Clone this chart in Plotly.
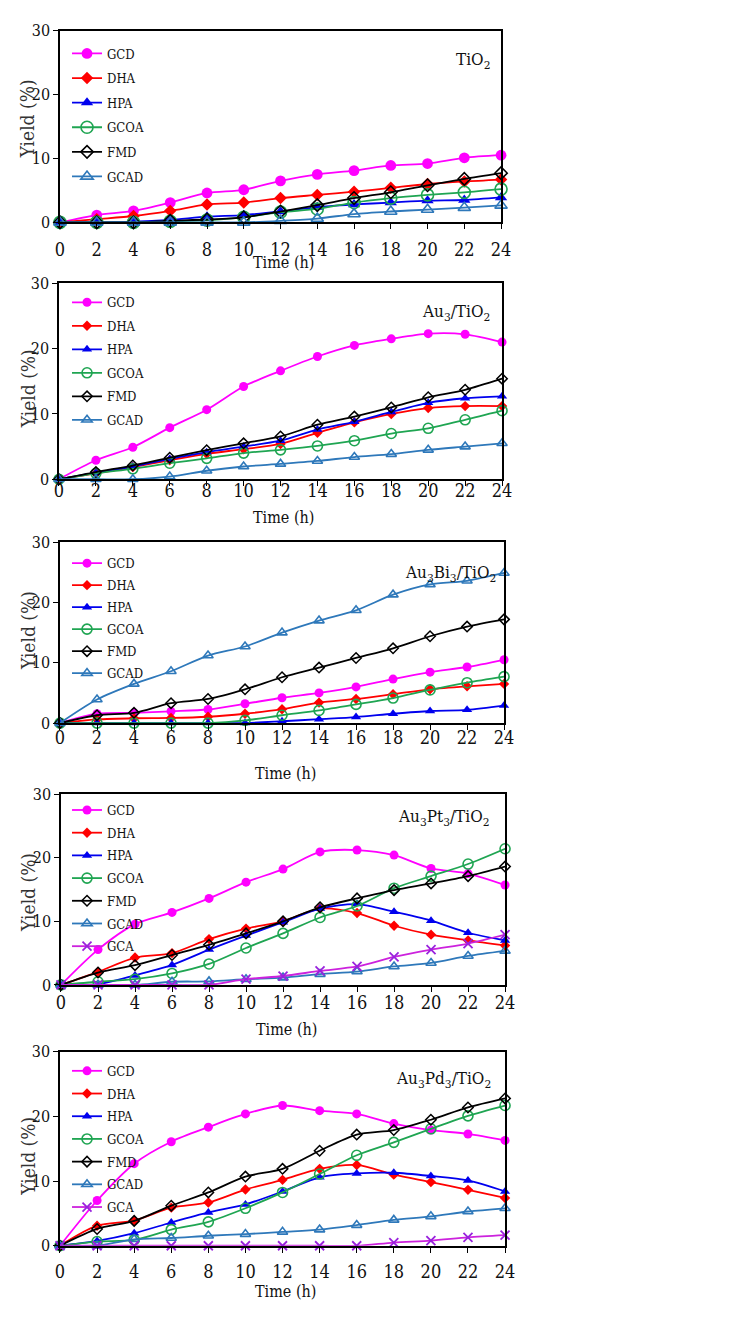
import plotly.graph_objects as go

# ---------------- data ----------------
time_h = [0, 2, 4, 6, 8, 10, 12, 14, 16, 18, 20, 22, 24]
x_ticks = [0, 2, 4, 6, 8, 10, 12, 14, 16, 18, 20, 22, 24]
y_ticks = [0, 10, 20, 30]

# TiO2
tio2_GCD = [0, 1.15, 1.8, 3.1, 4.6, 5.1, 6.5, 7.5, 8.1, 8.9, 9.2, 10.1, 10.5]
tio2_DHA = [0, 0.5, 1.0, 1.8, 2.8, 3.1, 3.8, 4.3, 4.8, 5.4, 6.0, 6.4, 6.7]
tio2_HPA = [0, 0, 0.1, 0.4, 0.9, 1.15, 1.7, 2.4, 2.8, 3.1, 3.4, 3.5, 3.9]
tio2_GCOA = [0, 0, 0, 0.15, 0.35, 0.8, 1.6, 2.1, 3.1, 3.8, 4.3, 4.7, 5.2]
tio2_FMD = [0, 0, 0, 0.25, 0.45, 0.8, 1.7, 2.7, 3.8, 4.7, 5.8, 6.8, 7.7]
tio2_GCAD = [0, 0, 0, 0, 0, 0, 0.25, 0.6, 1.3, 1.7, 2.0, 2.3, 2.65]

# Au3/TiO2
au_GCD = [0, 2.9, 4.9, 7.9, 10.65, 14.2, 16.6, 18.8, 20.5, 21.5, 22.3, 22.2, 21.0]
au_DHA = [0, 0.9, 1.85, 2.9, 3.9, 4.6, 5.4, 7.1, 8.7, 10.0, 10.9, 11.2, 11.2]
au_HPA = [0, 1.0, 1.95, 3.1, 4.15, 5.0, 5.9, 7.6, 8.8, 10.3, 11.7, 12.4, 12.7]
au_GCOA = [0, 0.9, 1.6, 2.45, 3.2, 4.0, 4.5, 5.1, 5.9, 7.0, 7.8, 9.1, 10.5]
au_FMD = [0, 1.1, 2.1, 3.3, 4.45, 5.5, 6.55, 8.35, 9.6, 11.0, 12.55, 13.7, 15.4]
au_GCAD = [0, 0, 0, 0.4, 1.3, 1.95, 2.35, 2.8, 3.4, 3.85, 4.5, 5.0, 5.5]

# Au3Bi3/TiO2
aubi_GCD = [0, 1.55, 1.7, 1.95, 2.25, 3.2, 4.2, 5.0, 6.0, 7.3, 8.45, 9.3, 10.5]
aubi_DHA = [0, 0.6, 0.8, 0.85, 1.05, 1.55, 2.3, 3.4, 4.0, 4.8, 5.6, 6.1, 6.5]
aubi_HPA = [0, 0, 0, 0, 0, 0, 0.3, 0.65, 1.0, 1.55, 2.0, 2.2, 2.9]
aubi_GCOA = [0, 0, 0, 0, 0, 0.45, 1.3, 2.1, 3.1, 4.15, 5.5, 6.7, 7.7]
aubi_FMD = [0, 1.3, 1.7, 3.3, 4.0, 5.6, 7.6, 9.2, 10.8, 12.4, 14.4, 16.0, 17.2]
aubi_GCAD = [0, 3.9, 6.5, 8.6, 11.2, 12.7, 15.0, 17.0, 18.7, 21.3, 23.0, 23.6, 24.9]

# Au3Pt3/TiO2
aupt_GCD = [0, 5.55, 9.55, 11.4, 13.6, 16.15, 18.2, 20.9, 21.2, 20.4, 18.3, 17.5, 15.7]
aupt_DHA = [0, 2.05, 4.3, 5.0, 7.2, 8.85, 10.0, 12.0, 11.3, 9.3, 7.9, 7.0, 6.2]
aupt_HPA = [0, 0.1, 1.5, 3.15, 5.55, 7.75, 9.85, 12.0, 12.7, 11.5, 10.1, 8.2, 7.0]
aupt_GCOA = [0, 0.5, 0.9, 1.8, 3.3, 5.8, 8.1, 10.6, 12.4, 15.2, 17.1, 19.0, 21.4]
aupt_FMD = [0, 1.95, 3.1, 4.7, 6.3, 8.1, 10.0, 12.2, 13.6, 14.9, 15.95, 17.1, 18.6]
aupt_GCAD = [0, 0, 0, 0.5, 0.55, 0.9, 1.15, 1.7, 2.1, 2.9, 3.45, 4.55, 5.35]
aupt_GCA = [0, 0, 0, 0, 0, 0.9, 1.4, 2.2, 2.9, 4.4, 5.55, 6.5, 7.9]

# Au3Pd3/TiO2
aupd_GCD = [0, 7.0, 12.7, 16.1, 18.35, 20.4, 21.7, 20.9, 20.4, 18.9, 17.9, 17.3, 16.3]
aupd_DHA = [0, 3.1, 3.9, 5.9, 6.7, 8.7, 10.2, 11.9, 12.5, 11.0, 9.85, 8.65, 7.4]
aupd_HPA = [0, 0.75, 1.95, 3.6, 5.15, 6.4, 8.4, 10.6, 11.2, 11.3, 10.8, 10.1, 8.4]
aupd_GCOA = [0, 0.65, 0.9, 2.5, 3.7, 5.8, 8.25, 11.1, 14.0, 16.0, 18.1, 20.1, 21.7]
aupd_FMD = [0, 2.6, 3.85, 6.2, 8.25, 10.7, 11.9, 14.7, 17.2, 17.9, 19.5, 21.4, 22.8]
aupd_GCAD = [0, 0, 1.0, 1.2, 1.55, 1.8, 2.15, 2.5, 3.2, 4.0, 4.55, 5.3, 5.8]
aupd_GCA = [0, 0, 0, 0, 0, 0, 0, 0, 0, 0.5, 0.8, 1.3, 1.65]

panel_labels = ["TiO<sub>2</sub>", "Au<sub>3</sub>/TiO<sub>2</sub>",
                "Au<sub>3</sub>Bi<sub>3</sub>/TiO<sub>2</sub>",
                "Au<sub>3</sub>Pt<sub>3</sub>/TiO<sub>2</sub>",
                "Au<sub>3</sub>Pd<sub>3</sub>/TiO<sub>2</sub>"]

panel_series = [
    {"GCD": tio2_GCD, "DHA": tio2_DHA, "HPA": tio2_HPA, "GCOA": tio2_GCOA, "FMD": tio2_FMD, "GCAD": tio2_GCAD},
    {"GCD": au_GCD, "DHA": au_DHA, "HPA": au_HPA, "GCOA": au_GCOA, "FMD": au_FMD, "GCAD": au_GCAD},
    {"GCD": aubi_GCD, "DHA": aubi_DHA, "HPA": aubi_HPA, "GCOA": aubi_GCOA, "FMD": aubi_FMD, "GCAD": aubi_GCAD},
    {"GCD": aupt_GCD, "DHA": aupt_DHA, "HPA": aupt_HPA, "GCOA": aupt_GCOA, "FMD": aupt_FMD, "GCAD": aupt_GCAD, "GCA": aupt_GCA},
    {"GCD": aupd_GCD, "DHA": aupd_DHA, "HPA": aupd_HPA, "GCOA": aupd_GCOA, "FMD": aupd_FMD, "GCAD": aupd_GCAD, "GCA": aupd_GCA},
]

# ---------------- styles / geometry ----------------
PAGE_W, PAGE_H = 742, 1317
OFF = 8                      # default body margin of the html page
W, H = PAGE_W - 2 * OFF, PAGE_H - 2 * OFF
FONT = "DejaVu Serif Condensed, Liberation Serif, serif"
# empirical mapping page -> photographed picture (picture = A*page + B)
AX, BX = 0.977, 4.3
AY, BY = 0.986, 8.6

styles = {
    "GCD": dict(line="#FF00FF", marker=dict(symbol="circle", color="#FF00FF", size=9)),
    "DHA": dict(line="#FF0000", marker=dict(symbol="diamond", color="#FF0000", size=8)),
    "HPA": dict(line="#0000EE", marker=dict(symbol="triangle-up", color="#0000EE", size=9)),
    "GCOA": dict(line="#1FA552", marker=dict(symbol="circle-open", color="#1FA552", size=10,
                                              line=dict(width=1.6, color="#1FA552"))),
    "FMD": dict(line="#000000", marker=dict(symbol="diamond-open", color="#000000", size=8,
                                             line=dict(width=1.5, color="#000000"))),
    "GCAD": dict(line="#2E78BA", marker=dict(symbol="triangle-up-open", color="#2E78BA", size=9,
                                              line=dict(width=1.6, color="#2E78BA"))),
    "GCA": dict(line="#CC22DD", marker=dict(symbol="x-thin", color="#9922DD", size=9,
                                             line=dict(width=1.8, color="#9922DD"))),
}

# target geometry of each panel in the picture: (left, right, top(y=30), bottom(y=0))
panel_px = [
    (59, 499, 30, 222),
    (58, 500, 283, 479),
    (59, 502, 542, 723),
    (60, 503, 794, 985),
    (59, 503, 1052, 1246),
]
xtitle_px = [262, 517, 773, 1030, 1292]
ytitle_px = [118, 388, 630, 892, 1156]
xtick_standoff = [5, -11, -7, -4, 4]
label_px = [(490, 60), (490, 312), (496, 573), (490, 817), (491, 1080)]
legend_first = [53, 302, 563, 810, 1071]
legend_gap = [4.7, 3.6, 2.1, 2.8, 2.8]
LEG_FONT = 13


def px_x(v):
    return ((v - BX) / AX - OFF) / W


def px_y(v):
    return 1 - ((v - BY) / AY - OFF) / H


fig = go.Figure()
layout = dict(width=W, height=H, margin=dict(l=0, r=0, t=0, b=0),
              paper_bgcolor="white", plot_bgcolor="white",
              font=dict(family=FONT, color="#111111", size=15),
              showlegend=True, annotations=[])

for i, series in enumerate(panel_series):
    n = i + 1
    sfx = "" if n == 1 else str(n)
    lg = "legend" if n == 1 else f"legend{n}"
    big = 1.2 if n == 1 else 1.0
    for name, yvals in series.items():
        st = styles[name]
        mk = dict(st["marker"])
        mk["size"] = mk["size"] * big
        fig.add_trace(go.Scatter(
            x=time_h, y=yvals, name=name, mode="lines+markers",
            line=dict(color=st["line"], width=1.8, shape="spline", smoothing=0.8),
            marker=mk, cliponaxis=False,
            xaxis=f"x{sfx}", yaxis=f"y{sfx}", legend=lg,
            legendgroup=f"p{n}_{name}",
        ))
    l, r, t, b = panel_px[i]
    layout[f"xaxis{sfx}"] = dict(
        domain=[px_x(l), px_x(r)], anchor=f"y{sfx}", range=[0, 24],
        tickvals=x_ticks, ticks="outside", ticklen=5, tickcolor="black",
        showline=True, mirror=True, linecolor="black", linewidth=1.5,
        showgrid=False, zeroline=False, ticklabelstandoff=xtick_standoff[i],
        tickfont=dict(family=FONT, size=18, color="#111111"),
    )
    layout[f"yaxis{sfx}"] = dict(
        domain=[px_y(b), px_y(t)], anchor=f"x{sfx}", range=[0, 30],
        tickvals=y_ticks, ticks="outside", ticklen=5, tickcolor="black",
        showline=True, mirror=True, linecolor="black", linewidth=1.5,
        showgrid=False, zeroline=False,
        tickfont=dict(family=FONT, size=16, color="#111111"),
    )
    layout[lg] = dict(
        x=px_x(66), y=px_y(legend_first[i] - 15), xanchor="left", yanchor="top",
        xref="paper", yref="paper", bgcolor="rgba(0,0,0,0)", borderwidth=0,
        font=dict(family=FONT, size=LEG_FONT, color="#111111"),
        itemwidth=30, tracegroupgap=legend_gap[i],
    )
    # y title
    layout["annotations"].append(dict(
        text="Yield (%)", x=px_x(27), y=px_y(ytitle_px[i]), xref="paper", yref="paper",
        showarrow=False, textangle=-90, xanchor="center", yanchor="middle",
        font=dict(family=FONT, size=19, color="#333333"),
    ))
    # x title
    layout["annotations"].append(dict(
        text="Time (h)", x=px_x((l + r) / 2 + 3), y=px_y(xtitle_px[i]), xref="paper", yref="paper",
        showarrow=False, xanchor="center", yanchor="middle",
        font=dict(family=FONT, size=16, color="#111111"),
    ))
    # panel label
    lbx, lby = label_px[i]
    layout["annotations"].append(dict(
        text=panel_labels[i], x=px_x(lbx), y=px_y(lby), xref="paper", yref="paper",
        showarrow=False, xanchor="right", yanchor="middle",
        font=dict(family=FONT, size=17, color="#111111"),
    ))

fig.update_layout(**layout)
fig.write_html("out.html")
